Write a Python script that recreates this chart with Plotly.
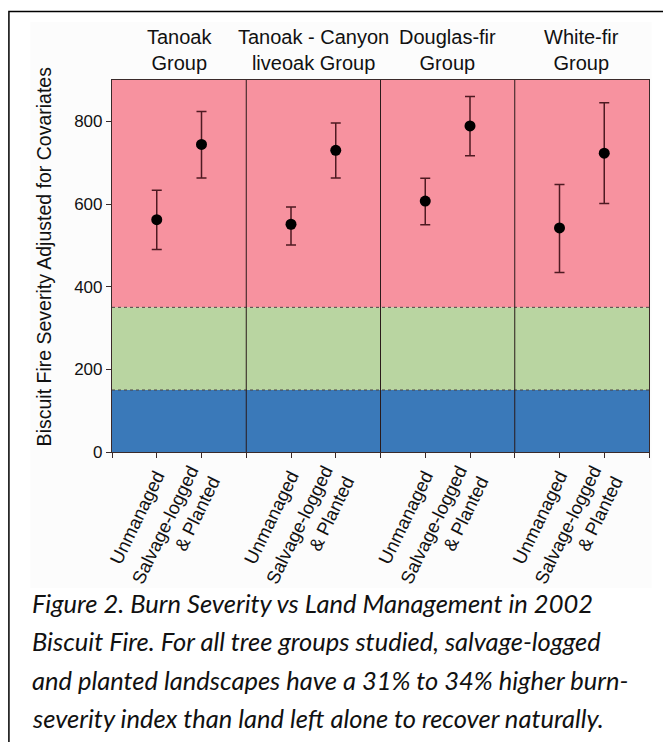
import plotly.graph_objects as go

# ---- data ----
groups = ["Tanoak<br>Group", "Tanoak - Canyon<br>liveoak Group", "Douglas-fir<br>Group", "White-fir<br>Group"]
treatments = ["Unmanaged", "Salvage-logged<br>& Planted"]
means = [562, 744, 551, 730, 607, 789, 542, 723]
err_upper = [633, 824, 593, 796, 662, 860, 647, 845]
err_lower = [490, 663, 501, 663, 550, 717, 434, 601]
band_edges = [0, 150, 350, 900]
band_colors = ["#3a79b9", "#b9d5a1", "#f7929f"]
y_ticks = [0, 200, 400, 600, 800]
y_title = "Biscuit Fire Severity Adjusted for Covariates"
caption_lines = [
    "Figure 2. Burn Severity vs Land Management in 2002",
    "Biscuit Fire. For all tree groups studied, salvage-logged",
    "and planted landscapes have a 31% to 34% higher burn-",
    "severity index than land left alone to recover naturally.",
]

# positions: each group occupies 3 units, treatments at 1 and 2
xpos, tickvals, ticktext = [], [], []
for gi in range(len(groups)):
    tickvals.append(3 * gi)
    ticktext.append("")
    for ti, t in enumerate(treatments):
        xpos.append(3 * gi + ti + 1)
        tickvals.append(3 * gi + ti + 1)
        ticktext.append(t)
tickvals.append(3 * len(groups))
ticktext.append("")

err_plus = [u - m for u, m in zip(err_upper, means)]
err_minus = [m - l for m, l in zip(means, err_lower)]

fig = go.Figure()
fig.add_trace(go.Scatter(
    x=xpos, y=means, mode="markers",
    marker=dict(color="black", size=11),
    error_y=dict(type="data", symmetric=False, array=err_plus, arrayminus=err_minus,
                 color="#4e1a22", thickness=1.5, width=5),
    showlegend=False, hoverinfo="skip",
))

L, T, W, H = 111.7, 80, 537.6, 372
def px(x): return (x - L) / W
def py(y): return (T + H - y) / H

shapes = []
xmax = 3 * len(groups)
shapes.append(dict(type="rect", xref="paper", yref="paper", x0=px(30), x1=px(652), y0=py(588), y1=py(22),
                   fillcolor="#fcfcfc", line=dict(width=0), layer="below"))
for i, c in enumerate(band_colors):
    shapes.append(dict(type="rect", xref="x", yref="y", x0=0, x1=xmax,
                       y0=band_edges[i], y1=band_edges[i + 1],
                       fillcolor=c, line=dict(width=0), layer="below"))
for e in band_edges[1:-1]:
    shapes.append(dict(type="line", xref="x", yref="y", x0=0, x1=xmax, y0=e, y1=e,
                       line=dict(color="#4a4040", width=1, dash="dot"), layer="below"))
for gi in range(1, len(groups)):
    shapes.append(dict(type="line", xref="x", yref="y", x0=3 * gi, x1=3 * gi, y0=0, y1=band_edges[-1],
                       line=dict(color="#2a1a1a", width=1), layer="below"))
shapes.append(dict(type="rect", xref="paper", yref="paper",
                   x0=px(8.5), x1=px(690), y0=py(760), y1=py(11.5),
                   line=dict(color="black", width=1.5), fillcolor="rgba(0,0,0,0)", layer="below"))

annotations = []
for gi, g in enumerate(groups):
    annotations.append(dict(x=3 * gi + 1.5, xref="x", y=1, yref="paper", yanchor="bottom",
                            yshift=4, text=g, showarrow=False,
                            font=dict(family="Liberation Sans, Arial", size=20, color="#111")))
annotations.append(dict(x=px(44), xref="paper", y=py(256), yref="paper", xanchor="center",
                        yanchor="middle", textangle=-90, text=y_title, showarrow=False,
                        font=dict(family="Liberation Sans, Arial", size=19.5, color="#111")))
cap_y = [603, 641, 680, 718]
for line, yy in zip(caption_lines, cap_y):
    annotations.append(dict(x=px(30), xref="paper", xanchor="left",
                            y=py(yy), yref="paper", yanchor="middle",
                            text=f"<i>{line}</i>", showarrow=False,
                            font=dict(family="Lato, Open Sans", size=25.5, color="#111")))

fig.update_layout(
    width=663, height=742,
    margin=dict(l=112, r=14, t=80, b=290),
    paper_bgcolor="white", plot_bgcolor="white",
    shapes=shapes, annotations=annotations,
    font=dict(family="Liberation Sans, Arial", color="#111"),
)
fig.update_xaxes(range=[0, xmax], tickmode="array", tickvals=tickvals, ticktext=ticktext,
                 tickangle=-64, ticks="outside", ticklen=5, tickcolor="#3a2a2a",
                 showline=True, linecolor="#3a2a2a", linewidth=1.2, mirror=True,
                 showgrid=False, zeroline=False, tickfont=dict(size=18.5))
fig.update_yaxes(range=[0, band_edges[-1]], tickmode="array", tickvals=y_ticks,
                 ticks="outside", ticklen=5, tickcolor="#3a2a2a",
                 showline=True, linecolor="#3a2a2a", linewidth=1.2, mirror=True,
                 showgrid=False, zeroline=False, tickfont=dict(size=17))

fig.write_html("out.html", config={"displayModeBar": False},
               post_script="document.body.style.margin='0';document.body.style.overflow='hidden';")
